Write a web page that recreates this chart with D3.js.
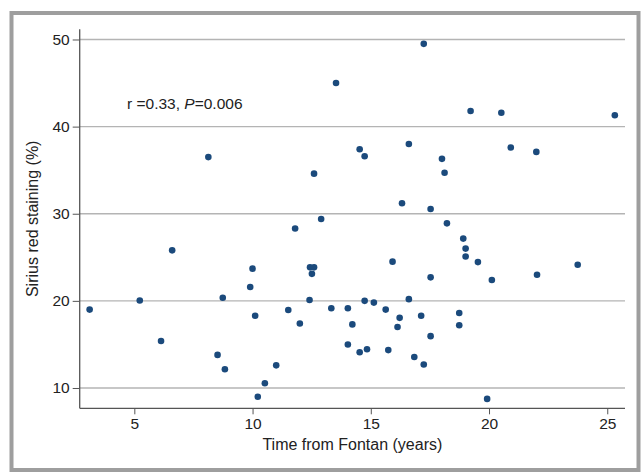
<!DOCTYPE html>
<html>
<head>
<meta charset="utf-8">
<script src="https://cdn.jsdelivr.net/npm/d3@7"></script>
<style>
  html, body { margin: 0; padding: 0; background: #fff; }
  svg { display: block; font-family: "Liberation Sans", Arial, sans-serif; }
</style>
</head>
<body>
<svg id="chart" width="641" height="472"></svg>
<script>
const xValues = [8.13, 12.6, 11.8, 12.9,
  17.24, 13.53, 19.22, 20.52, 25.32, 14.53, 14.74, 16.61, 18.01, 18.12, 20.92, 22.0, 16.32, 17.53, 18.22, 18.91,
  6.6, 10.0, 12.43, 12.6, 12.51, 9.9, 5.23, 8.74, 12.41, 3.11, 10.11, 11.51, 12.0, 6.13, 8.52, 8.83, 11.0, 10.52, 10.22,
  19.01, 19.01, 19.53, 15.92, 23.75, 22.03, 17.53, 20.12, 14.74, 15.13, 16.61, 13.33, 14.03, 15.63, 18.74, 17.13, 16.22,
  14.22, 16.13, 18.74, 17.53, 14.03, 14.53, 14.84, 15.74, 16.84, 17.24, 19.92];
const yValues = [36.5, 34.6, 28.3, 29.4,
  49.5, 45.0, 41.8, 41.6, 41.3, 37.4, 36.6, 38.0, 36.3, 34.7, 37.6, 37.1, 31.2, 30.55, 28.9, 27.15,
  25.8, 23.7, 23.85, 23.85, 23.1, 21.6, 20.05, 20.35, 20.1, 19.0, 18.3, 18.95, 17.4, 15.4, 13.8, 12.15, 12.6, 10.55, 9.0,
  26.0, 25.1, 24.45, 24.5, 24.15, 23.0, 22.7, 22.4, 20.0, 19.8, 20.2, 19.15, 19.15, 19.0, 18.6, 18.3, 18.05,
  17.3, 17.0, 17.2, 15.95, 15.0, 14.1, 14.45, 14.35, 13.55, 12.7, 8.75];
const xTicks = [5, 10, 15, 20, 25];
const yTicks = [10, 20, 30, 40, 50];
const xLabel = "Time from Fontan (years)";
const yLabel = "Sirius red staining (%)";

const points = xValues.map((x, i) => ({x, y: yValues[i]}));

const svg = d3.select("#chart");
const pL = 79.7, pR = 625, pT = 29.3, pB = 408.3;

const x = d3.scaleLinear().domain([2.69, 25.75]).range([pL, pR]);
const y = d3.scaleLinear().domain([7.67, 51.17]).range([pB, pT]);

// outer frame
svg.append("rect").attr("x", 11.5).attr("y", 13).attr("width", 627).attr("height", 457)
  .attr("fill", "none").attr("stroke", "#9e9e9e").attr("stroke-width", 4);

// gridlines
svg.append("g").selectAll("line").data(yTicks).join("line")
  .attr("x1", pL).attr("x2", pR)
  .attr("y1", d => y(d)).attr("y2", d => y(d))
  .attr("stroke", "#b4b4b4").attr("stroke-width", 1.3);

// axes
const xAxis = svg.append("g").attr("transform", `translate(0,${pB})`)
  .call(d3.axisBottom(x).tickValues(xTicks).tickSize(6).tickPadding(4).tickFormat(d3.format("d")));
const yAxis = svg.append("g").attr("transform", `translate(${pL},0)`)
  .call(d3.axisLeft(y).tickValues(yTicks).tickSize(7).tickPadding(3).tickFormat(d3.format("d")));
[xAxis, yAxis].forEach(a => {
  a.select(".domain").attr("stroke", "#555").attr("stroke-width", 1.3);
  a.selectAll(".tick line").attr("stroke", "#555");
  a.selectAll(".tick text").attr("fill", "#222").style("font-size", "15.5px")
    .style("font-family", '"Liberation Sans", Arial, sans-serif');
});
xAxis.select(".domain").attr("d", `M${pL},0H${pR}`);
yAxis.select(".domain").attr("d", `M0,${pB}V${pT}`);

// axis titles
svg.append("text").attr("x", (pL + pR) / 2).attr("y", 450)
  .attr("text-anchor", "middle").attr("fill", "#222").style("font-size", "16px").text(xLabel);
svg.append("text").attr("transform", `translate(38,${(pT + pB) / 2}) rotate(-90)`)
  .attr("text-anchor", "middle").attr("fill", "#222").style("font-size", "16px").text(yLabel);

// annotation
const ann = svg.append("text").attr("x", 127).attr("y", 109).attr("fill", "#222").style("font-size", "15.5px");
ann.append("tspan").text("r =0.33, ");
ann.append("tspan").style("font-style", "italic").text("P");
ann.append("tspan").text("=0.006");

// points
svg.append("g").selectAll("circle").data(points).join("circle")
  .attr("cx", d => x(d.x)).attr("cy", d => y(d.y)).attr("r", 3.3)
  .attr("fill", "#1b4a7c");
</script>
</body>
</html>
